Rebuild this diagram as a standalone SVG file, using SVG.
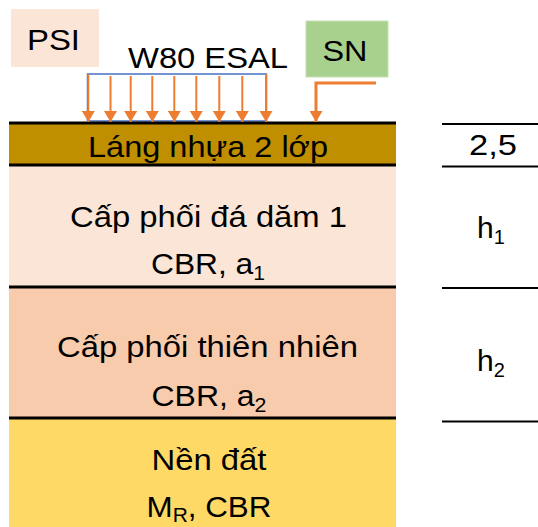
<svg xmlns="http://www.w3.org/2000/svg" width="538" height="527" viewBox="0 0 538 527">
  <style>
    text { font-family: "Liberation Sans", Arial, sans-serif; font-size: 30px; fill: #000; }
    .c { text-anchor: middle; }
    .sub { font-size: 20px; }
    .sep { stroke: #000; stroke-width: 3; }
    .rule { stroke: #000; stroke-width: 2; }
    .load { stroke: #ED7D31; stroke-width: 2; fill: none; }
    .sn { stroke: #ED7D31; stroke-width: 3; fill: none; }
  </style>
  <defs>
    <marker id="ah" viewBox="0 0 11 13" refX="11" refY="6.5" markerWidth="11" markerHeight="13" markerUnits="userSpaceOnUse" orient="auto">
      <path d="M0,0 L11,6.5 L0,13 z" fill="#ED7D31"/>
    </marker>
  </defs>
  <rect width="538" height="527" fill="#fff"/>

  <g id="psi">
    <rect x="11" y="9" width="88" height="58" fill="#FBE5D6"/>
    <text x="53.5" y="50" class="c" textLength="53" lengthAdjust="spacingAndGlyphs">PSI</text>
  </g>

  <g id="sn">
    <rect x="306" y="21" width="82" height="56" fill="#A9D18E" stroke="#C5E0B4" stroke-width="1"/>
    <text x="345" y="61" class="c" textLength="45" lengthAdjust="spacingAndGlyphs">SN</text>
  </g>

  <g id="w80-esal">
    <text x="208" y="68" class="c" textLength="160" lengthAdjust="spacingAndGlyphs">W80 ESAL</text>
    <rect x="87.5" y="74" width="179" height="47" fill="none" stroke="#4472C4" stroke-width="1.5"/>
  </g>

  <g id="layer-lang-nhua">
    <rect x="9" y="123" width="387" height="42" fill="#BF8F00"/>
    <text x="208" y="157" class="c" textLength="240" lengthAdjust="spacingAndGlyphs">Láng nhựa 2 lớp</text>
  </g>

  <g id="layer-cap-phoi-da-dam">
    <rect x="9" y="165" width="387" height="122" fill="#FBE5D6"/>
    <text x="208.5" y="227" class="c" textLength="277" lengthAdjust="spacingAndGlyphs">Cấp phối đá dăm 1</text>
    <text x="208" y="274" class="c" textLength="114" lengthAdjust="spacingAndGlyphs">CBR, a<tspan class="sub" dy="6">1</tspan></text>
  </g>

  <g id="layer-cap-phoi-thien-nhien">
    <rect x="9" y="287" width="387" height="131" fill="#F8CBAD"/>
    <text x="207.5" y="357" class="c" textLength="301" lengthAdjust="spacingAndGlyphs">Cấp phối thiên nhiên</text>
    <text x="209" y="406" class="c" textLength="115" lengthAdjust="spacingAndGlyphs">CBR, a<tspan class="sub" dy="6">2</tspan></text>
  </g>

  <g id="layer-nen-dat">
    <rect x="9" y="418" width="387" height="109" fill="#FFD966"/>
    <text x="209" y="470" class="c" textLength="115" lengthAdjust="spacingAndGlyphs">Nền đất</text>
    <text x="209" y="517" textLength="125" lengthAdjust="spacingAndGlyphs" class="c">M<tspan class="sub" dy="5">R</tspan><tspan dy="-5">, CBR</tspan></text>
  </g>

  <g id="separators">
    <line class="sep" x1="9" y1="123" x2="396" y2="123"/>
    <line class="sep" x1="9" y1="165" x2="396" y2="165"/>
    <line class="sep" x1="9" y1="287" x2="396" y2="287"/>
    <line class="sep" x1="9" y1="418" x2="396" y2="418"/>
  </g>

  <g id="thickness">
    <line class="rule" x1="442" y1="124" x2="538" y2="124"/>
    <line class="rule" x1="442" y1="166.5" x2="538" y2="166.5"/>
    <line class="rule" x1="442" y1="288" x2="538" y2="288"/>
    <line class="rule" x1="442" y1="421.5" x2="538" y2="421.5"/>
    <text x="493" y="155" class="c" textLength="48" lengthAdjust="spacingAndGlyphs">2,5</text>
    <text x="491" y="238" class="c">h<tspan class="sub" dy="6">1</tspan></text>
    <text x="491" y="371" class="c">h<tspan class="sub" dy="6">2</tspan></text>
  </g>

  <g id="connectors">
    <line class="load" x1="88.3" y1="74" x2="88.3" y2="122" marker-end="url(#ah)"/>
    <line class="load" x1="110.5" y1="76" x2="110.5" y2="122" marker-end="url(#ah)"/>
    <line class="load" x1="130.7" y1="76" x2="130.7" y2="122" marker-end="url(#ah)"/>
    <line class="load" x1="152.3" y1="76" x2="152.3" y2="122" marker-end="url(#ah)"/>
    <line class="load" x1="174.3" y1="76" x2="174.3" y2="122" marker-end="url(#ah)"/>
    <line class="load" x1="196.3" y1="76" x2="196.3" y2="122" marker-end="url(#ah)"/>
    <line class="load" x1="219.3" y1="76" x2="219.3" y2="122" marker-end="url(#ah)"/>
    <line class="load" x1="242.3" y1="76" x2="242.3" y2="122" marker-end="url(#ah)"/>
    <line class="load" x1="266" y1="74" x2="266" y2="122" marker-end="url(#ah)"/>
    <path class="sn" d="M376,83 H316 V122" marker-end="url(#ah)"/>
  </g>
</svg>
